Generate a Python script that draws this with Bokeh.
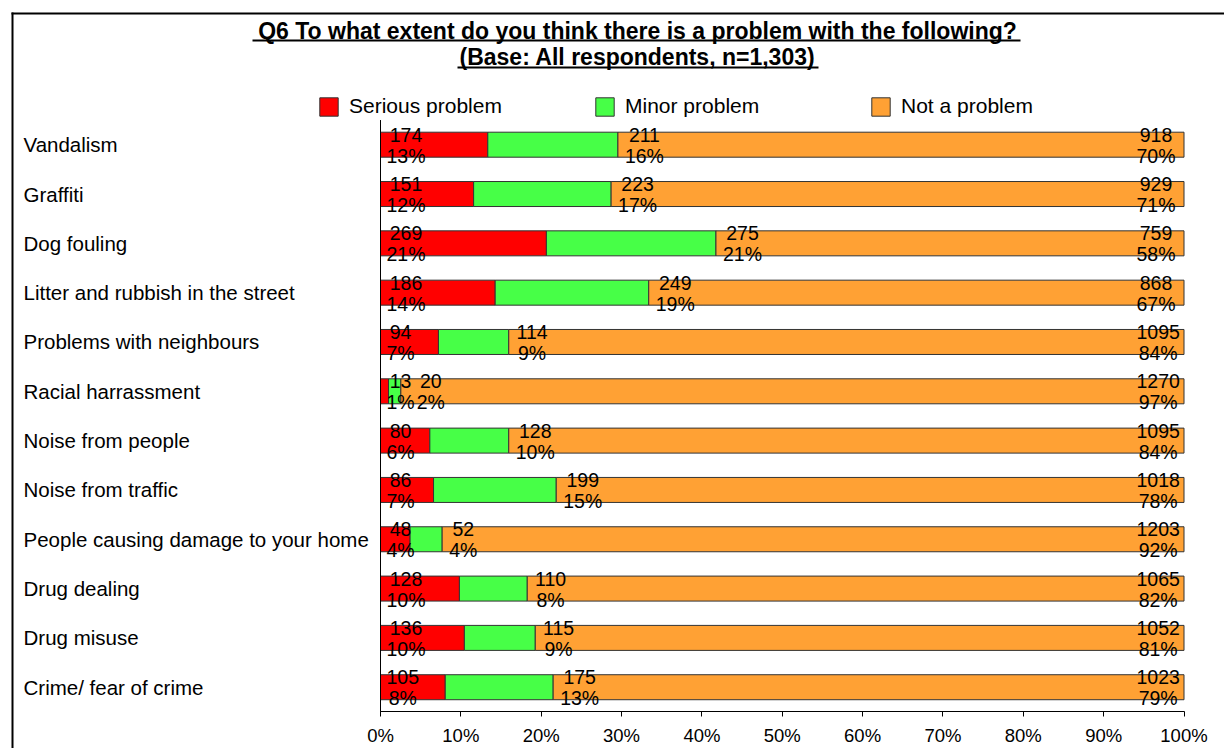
from bokeh.plotting import figure
from bokeh.models import (Range1d, FixedTicker, LinearAxis, Legend, LegendItem,
                          ColumnDataSource)
from bokeh.core.properties import value
from bokeh.embed import file_html
from bokeh.resources import INLINE

# ---------------- data ----------------
categories = ["Vandalism", "Graffiti", "Dog fouling", "Litter and rubbish in the street",
              "Problems with neighbours", "Racial harrassment", "Noise from people",
              "Noise from traffic", "People causing damage to your home", "Drug dealing",
              "Drug misuse", "Crime/ fear of crime"]
serious_n = [174, 151, 269, 186, 94, 13, 80, 86, 48, 128, 136, 105]
minor_n = [211, 223, 275, 249, 114, 20, 128, 199, 52, 110, 115, 175]
not_n = [918, 929, 759, 868, 1095, 1270, 1095, 1018, 1203, 1065, 1052, 1023]
serious_pct = ["13%", "12%", "21%", "14%", "7%", "1%", "6%", "7%", "4%", "10%", "10%", "8%"]
minor_pct = ["16%", "17%", "21%", "19%", "9%", "2%", "10%", "15%", "4%", "8%", "9%", "13%"]
not_pct = ["70%", "71%", "58%", "67%", "84%", "97%", "84%", "78%", "92%", "82%", "81%", "79%"]
series_names = ["Serious problem", "Minor problem", "Not a problem"]
series_colors = ["#FF0000", "#47FF47", "#FFA134"]
x_ticks = [0, 10, 20, 30, 40, 50, 60, 70, 80, 90, 100]
x_tick_labels = ["0%", "10%", "20%", "30%", "40%", "50%", "60%", "70%", "80%", "90%", "100%"]
title_lines = ["Q6 To what extent do you think there is a problem with the following?",
               "(Base: All respondents, n=1,303)"]

# ---------------- geometry (pixels) ----------------
W, H = 1224, 748
X0, X1 = 380.0, 1183.5          # pixel of 0% and 100%
S = (X1 - X0) / 100.0
ROW0, ROWH = 144.2, 49.32
BAR_PX = 25

def dx(px):
    return (px - X0) / S

def dy(py):
    return (py - ROW0) / ROWH

FONT = "Liberation Sans"
LABEL_FS = 19.5

def tw(s, fs=LABEL_FS):
    return sum(0.889 if c == "%" else 0.556 for c in s) * fs

n = len(categories)
rows = list(range(n))
totals = [a + b + c for a, b, c in zip(serious_n, minor_n, not_n)]
s_right = [a / t * 100 for a, t in zip(serious_n, totals)]
m_right = [(a + b) / t * 100 for a, b, t in zip(serious_n, minor_n, totals)]

p = figure(width=W, height=H, title=None,
           x_range=Range1d(dx(0), dx(W)),
           y_range=Range1d(dy(H), dy(0)),
           x_axis_location=None, y_axis_location=None,
           output_backend="svg", toolbar_location=None,
           min_border_left=0, min_border_right=0, min_border_top=0,
           min_border_bottom=0)
p.outline_line_color = None
p.background_fill_color = "white"
p.border_fill_color = "white"
for g in p.grid:
    g.visible = False

# ---------------- outer frame (top and left edges) ----------------
p.segment(x0=[dx(12), dx(11)], y0=[dy(H), dy(13)], x1=[dx(12), dx(W)], y1=[dy(12), dy(13)],
          line_color="black", line_width=2)

# ---------------- bars ----------------
bh = BAR_PX / ROWH
src = ColumnDataSource(dict(y=rows, s0=[0] * n, s1=s_right, m1=m_right, n1=[100] * n))
r_s = p.hbar(y="y", left="s0", right="s1", height=bh, source=src,
             fill_color=series_colors[0], line_color="#333333", line_width=1)
r_m = p.hbar(y="y", left="s1", right="m1", height=bh, source=src,
             fill_color=series_colors[1], line_color="#333333", line_width=1)
r_n = p.hbar(y="y", left="m1", right="n1", height=bh, source=src,
             fill_color=series_colors[2], line_color="#333333", line_width=1)

# y axis line
p.segment(x0=[0], y0=[-0.5], x1=[0], y1=[n - 0.5], line_color="black", line_width=1)

# ---------------- data labels ----------------
lab_x, lab_y, lab_off, lab_cnt, lab_pct = [], [], [], [], []
for i in range(n):
    cs, ps = str(serious_n[i]), serious_pct[i]
    bw_s = max(tw(cs), tw(ps))
    lab_x.append(0); lab_y.append(i); lab_off.append(6 + bw_s / 2)
    lab_cnt.append(cs); lab_pct.append(ps)
    s_block_right = X0 + 6 + bw_s

    cm, pm = str(minor_n[i]), minor_pct[i]
    bw_m = max(tw(cm), tw(pm))
    left_px = X0 + S * m_right[i] + 7
    left_px = max(left_px, s_block_right + 2)
    lab_x.append(m_right[i]); lab_y.append(i)
    lab_off.append(left_px - (X0 + S * m_right[i]) + bw_m / 2)
    lab_cnt.append(cm); lab_pct.append(pm)

    cn, pn = str(not_n[i]), not_pct[i]
    bw_n = max(tw(cn), tw(pn))
    lab_x.append(100); lab_y.append(i); lab_off.append(-(X1 - 1136) + bw_n / 2)
    lab_cnt.append(cn); lab_pct.append(pn)

lsrc = ColumnDataSource(dict(x=lab_x, y=lab_y, off=lab_off, cnt=lab_cnt, pct=lab_pct))
p.text(x="x", y="y", text="cnt", x_offset="off", y_offset=-10, source=lsrc,
       text_align="center", text_baseline="middle", text_color="black",
       text_font=value(FONT), text_font_size=value("19.5px"))
p.text(x="x", y="y", text="pct", x_offset="off", y_offset=11, source=lsrc,
       text_align="center", text_baseline="middle", text_color="black",
       text_font=value(FONT), text_font_size=value("19.5px"))

# ---------------- category labels ----------------
p.text(x=[0] * n, y=rows, text=categories, x_offset=23 - X0,
       text_align="left", text_baseline="middle", text_color="black",
       text_font=value(FONT), text_font_size=value("20.5px"))

# ---------------- title ----------------
TITLE_CX = 637
p.text(x=[dx(TITLE_CX)] * 2, y=[dy(30), dy(56.5)], text=title_lines,
       text_align="center", text_baseline="middle", text_color="black",
       text_font=value(FONT), text_font_size=value("23px"), text_font_style="bold")
p.segment(x0=[dx(252), dx(457)], y0=[dy(40), dy(67)],
          x1=[dx(1020), dx(818)], y1=[dy(40), dy(67)],
          line_color="black", line_width=2)

# ---------------- legend ----------------
LEG_TOP = 95
legend = Legend(items=[LegendItem(label=series_names[0], renderers=[r_s]),
                       LegendItem(label=series_names[1], renderers=[r_m]),
                       LegendItem(label=series_names[2], renderers=[r_n])],
                orientation="horizontal", location=(317, H - LEG_TOP - 23),
                padding=0, margin=0, spacing=0, glyph_width=23, glyph_height=23,
                label_standoff=9, label_width=244, label_height=23,
                label_text_font=FONT, label_text_font_size="21px",
                label_text_color="black", border_line_color=None,
                background_fill_alpha=0)
p.add_layout(legend, "center")

# ---------------- x axis (drawn at the bottom edge of the last row) ----------------
xaxis = LinearAxis(ticker=FixedTicker(ticks=x_ticks), bounds=(0, 100),
                   fixed_location=n - 0.5,
                   major_label_overrides={t: l for t, l in zip(x_ticks, x_tick_labels)})
xaxis.axis_line_color = "black"
xaxis.major_tick_line_color = "black"
xaxis.major_tick_in = 0
xaxis.major_tick_out = 5
xaxis.minor_tick_line_color = None
xaxis.major_label_standoff = 8
xaxis.major_label_text_font = FONT
xaxis.major_label_text_font_size = "18.5px"
xaxis.major_label_text_color = "black"
p.add_layout(xaxis, "below")

open("out.html", "w").write(file_html(p, INLINE))
